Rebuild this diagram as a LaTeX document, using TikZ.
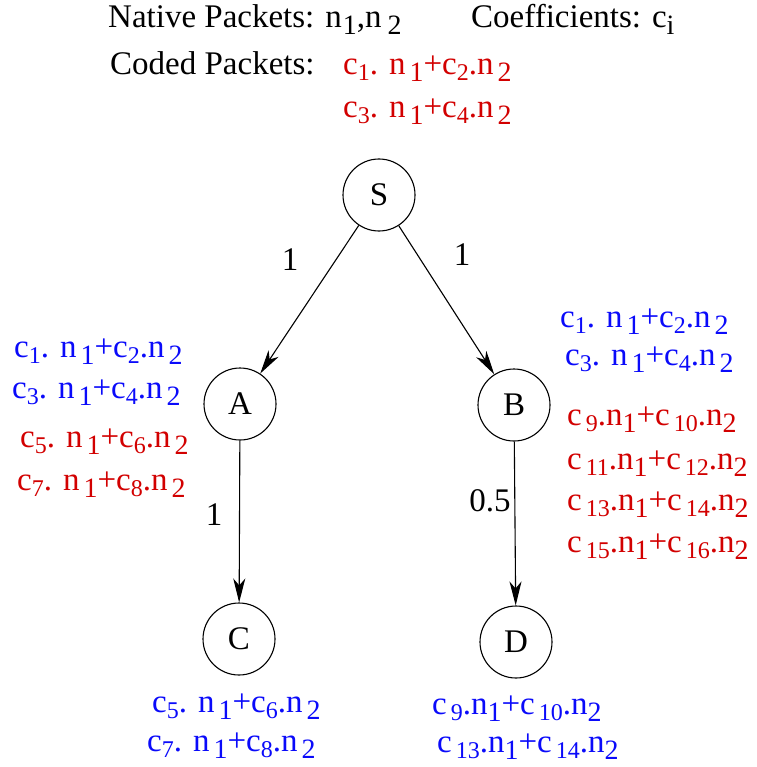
\documentclass[tikz,border=0pt]{standalone}
\usepackage{fontspec}
\setmainfont{Liberation Serif}
\usetikzlibrary{arrows.meta}
\definecolor{cred}{RGB}{210,0,0}
\definecolor{cblue}{RGB}{10,10,250}
\newcommand\cs[1]{\raisebox{-6pt}{\fontsize{24}{24}\selectfont #1}}
\newcommand\ns[1]{\raisebox{-7pt}{\fontsize{28}{28}\selectfont #1}}
\newcommand\fa[2]{c\cs{#1}. n\hspace{4pt}\ns{1}+c\cs{#2}.n\hspace{4pt}\ns{2}}
\newcommand\fb[2]{c\hspace{4pt}\cs{#1}.n\ns{1}+c\hspace{4pt}\cs{#2}.n\ns{2}}
\begin{document}
\begin{tikzpicture}[x=1pt,y=-1pt,
  vertex/.style={circle,draw,line width=1.1pt,minimum size=72pt,inner sep=0pt,font=\fontsize{33}{33}\selectfont},
  txt/.style={anchor=base west,inner sep=0pt,font=\fontsize{33}{33}\selectfont},
  redtxt/.style={txt,text=cred},
  bluetxt/.style={txt,text=cblue},
  edge/.style={-{Stealth[length=24pt,width=12pt,inset=7pt]},line width=1.1pt},
  elab/.style={inner sep=0pt,font=\fontsize{33}{33}\selectfont}]
\useasboundingbox (0,0) rectangle (756,767);
% header
\node[txt] (native) at (108,28) {Native Packets: n\hspace{1pt}\ns{1},n\hspace{6pt}\ns{2}};
\node[txt] (coef) at (471,28) {Coefficients: c\ns{i}};
\node[txt] (coded) at (110,75) {Coded Packets:};
\node[redtxt] (s1) at (343,75) {\fa{1}{2}};
\node[redtxt] (s2) at (343,118) {\fa{3}{4}};
% nodes
\node[vertex] (S) at (379,195) {S};
\node[vertex] (A) at (240,404) {A};
\node[vertex] (B) at (514,405) {B};
\node[vertex] (C) at (239,639) {C};
\node[vertex] (D) at (516,642) {D};
% edges
\draw[edge] (S) -- (A);
\draw[edge] (S) -- (B);
\draw[edge] (A) -- (C);
\draw[edge] (B) -- (D);
\node[elab] (l1) at (290,260) {1};
\node[elab] (l2) at (462,255) {1};
\node[elab] (l3) at (214,515) {1};
\node[elab] (l4) at (490,501) {0.5};
% A packets
\node[bluetxt] (a1) at (14,357) {\fa{1}{2}};
\node[bluetxt] (a2) at (12,398) {\fa{3}{4}};
\node[redtxt] (a3) at (20,447) {\fa{5}{6}};
\node[redtxt] (a4) at (17,490) {\fa{7}{8}};
% B packets
\node[bluetxt] (b1) at (560,327) {\fa{1}{2}};
\node[bluetxt] (b2) at (565,365) {\fa{3}{4}};
\node[redtxt] (b3) at (567,425) {\fb{9}{10}};
\node[redtxt] (b4) at (567,469) {\fb{11}{12}};
\node[redtxt] (b5) at (567,510) {\fb{13}{14}};
\node[redtxt] (b6) at (567,552) {\fb{15}{16}};
% C packets
\node[bluetxt] (c1) at (152,712) {\fa{5}{6}};
\node[bluetxt] (c2) at (147,751) {\fa{7}{8}};
% D packets
\node[bluetxt] (d1) at (432,714) {\fb{9}{10}};
\node[bluetxt] (d2) at (437,752) {\fb{13}{14}};
\end{tikzpicture}
\end{document}
